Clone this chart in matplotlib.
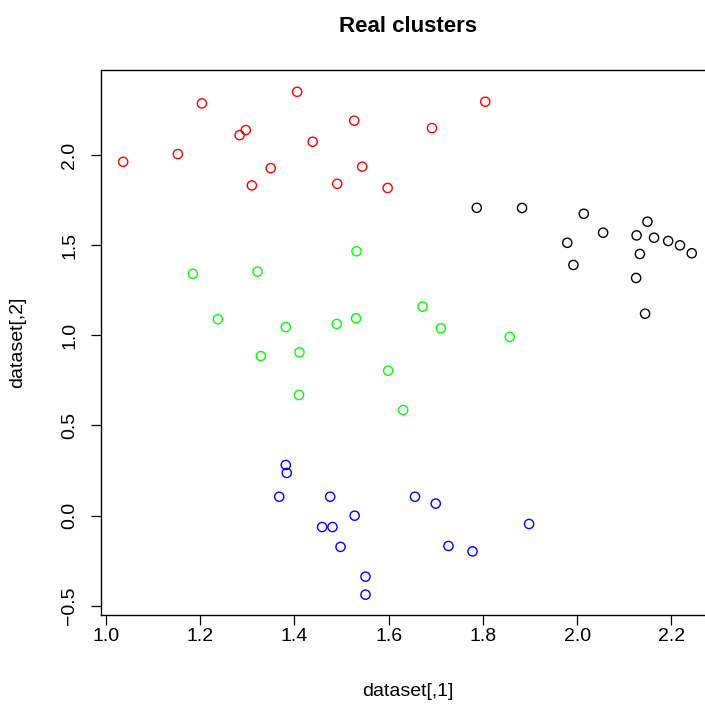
import matplotlib
matplotlib.use("Agg")
import matplotlib.pyplot as plt

plt.rcParams['font.family'] = ['Liberation Sans', 'DejaVu Sans']

# cluster 1 (red)
red_x = [1.037, 1.204, 1.153, 1.297, 1.284, 1.406, 1.527, 1.439, 1.350, 1.310,
         1.544, 1.491, 1.598, 1.805, 1.692]
red_y = [1.962, 2.286, 2.005, 2.138, 2.110, 2.350, 2.190, 2.073, 1.927, 1.831,
         1.935, 1.840, 1.817, 2.295, 2.149]
# cluster 2 (black)
black_x = [1.787, 1.883, 2.014, 2.149, 2.055, 2.126, 2.163, 2.193, 2.218, 2.243,
           1.979, 2.133, 1.992, 2.125, 2.144]
black_y = [1.707, 1.706, 1.674, 1.630, 1.569, 1.554, 1.541, 1.523, 1.499, 1.455,
           1.513, 1.451, 1.390, 1.318, 1.120]
# cluster 3 (green)
green_x = [1.185, 1.322, 1.532, 1.238, 1.382, 1.490, 1.531, 1.329, 1.411, 1.599,
           1.410, 1.631, 1.672, 1.711, 1.857]
green_y = [1.341, 1.353, 1.466, 1.089, 1.046, 1.063, 1.094, 0.885, 0.906, 0.804,
           0.669, 0.586, 1.159, 1.039, 0.991]
# cluster 4 (blue)
blue_x = [1.382, 1.384, 1.368, 1.476, 1.656, 1.700, 1.528, 1.459, 1.481, 1.898,
          1.498, 1.727, 1.778, 1.551, 1.551]
blue_y = [0.281, 0.237, 0.105, 0.105, 0.105, 0.067, 0.000, -0.063, -0.063, -0.046,
          -0.173, -0.168, -0.198, -0.338, -0.438]

xticks = [1.0, 1.2, 1.4, 1.6, 1.8, 2.0, 2.2]
yticks = [-0.5, 0.0, 0.5, 1.0, 1.5, 2.0]

fig = plt.figure(figsize=(7.05, 7.11), dpi=100)
ax = fig.add_axes([101/705, (711-614.7)/711, 614/705, (614.7-70)/711])

for xs, ys, c in [(red_x, red_y, '#FF0000'), (black_x, black_y, '#000000'),
                  (green_x, green_y, '#00FF00'), (blue_x, blue_y, '#0000FF')]:
    ax.scatter(xs, ys, s=44, facecolors='none', edgecolors=c, linewidths=1.0, zorder=3)

ax.set_xlim(0.990, 2.2923)
ax.set_ylim(-0.549, 2.471)
ax.set_xticks(xticks)
ax.set_xticklabels([f"{v:.1f}" for v in xticks])
ax.set_yticks(yticks)
ax.set_yticklabels([f"{v:.1f}".replace('-', '\u2212') for v in yticks])
for s in ax.spines.values():
    s.set_linewidth(1.0)
ax.tick_params(axis='both', length=7.5, width=0.9, labelsize=14, direction='out')
ax.tick_params(axis='x', pad=2)
ax.tick_params(axis='y', pad=9, labelrotation=90)
for lbl in ax.get_yticklabels():
    lbl.set_va('center')

ax.set_title("Real clusters", fontsize=16, fontweight='bold', pad=27)
ax.set_xlabel("dataset[,1]", fontsize=14, va='center')
ax.set_ylabel("dataset[,2]", fontsize=14, va='center')
ax.xaxis.set_label_coords(0.5, (614.7 - 692) / 544.7)
ax.yaxis.set_label_coords((18 - 101) / 614, 0.5)

fig.savefig("out.png", dpi=100)
